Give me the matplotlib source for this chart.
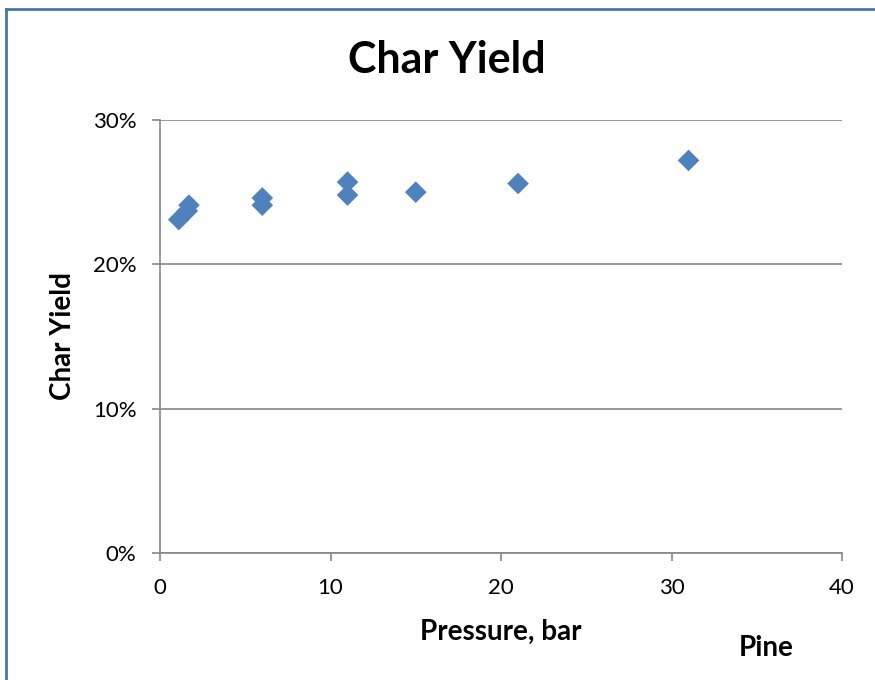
import matplotlib
matplotlib.use("Agg")
import matplotlib.pyplot as plt
from matplotlib.ticker import FuncFormatter

# pressure (bar) and char yield (fraction)
pressure = [1.1, 1.6, 1.7, 6.0, 6.0, 11.0, 11.0, 15.0, 21.0, 31.0]
char_yield = [0.231, 0.237, 0.241, 0.241, 0.246, 0.248, 0.257, 0.250, 0.256, 0.272]

x_ticks = [0, 10, 20, 30, 40]
y_ticks = [0.0, 0.1, 0.2, 0.3]

plt.rcParams['font.family'] = ['Lato', 'DejaVu Sans']

fig = plt.figure(figsize=(8.75, 6.8), dpi=100)
fig.patch.set_facecolor('white')

# chart frame (only top and left edges visible in the crop)
fig.add_artist(plt.Line2D([6/875, 6/875], [0, 1 - 9/680], color='#4a74a8', lw=2,
                          transform=fig.transFigure))
fig.add_artist(plt.Line2D([6/875, 1], [1 - 9/680, 1 - 9/680], color='#4a74a8', lw=2,
                          transform=fig.transFigure))

ax = fig.add_axes([160/875, 1 - 553/680, 682/875, 433/680])

ax.scatter(pressure, char_yield, marker='D', s=11**2, color='#4f81bd',
           edgecolor='none', zorder=3)

ax.set_xlim(0, 40)
ax.set_ylim(0, 0.3)
ax.set_xticks(x_ticks)
ax.set_yticks(y_ticks)
ax.yaxis.set_major_formatter(FuncFormatter(lambda v, p: f"{v*100:.0f}%"))

ax.grid(axis='y', color='#868686', lw=1.2)
ax.set_axisbelow(True)
for side in ['top', 'right']:
    ax.spines[side].set_visible(False)
for side in ['left', 'bottom']:
    ax.spines[side].set_color('#868686')
    ax.spines[side].set_linewidth(1.2)
ax.tick_params(axis='both', colors='#868686', labelcolor='black', labelsize=16,
               length=6, width=1.2, direction='out')
ax.tick_params(axis='x', pad=12)
ax.tick_params(axis='y', pad=11)

ax.set_xlabel('Pressure, bar', fontsize=20, fontweight='bold', labelpad=15)
ax.set_ylabel('Char Yield', fontsize=20, fontweight='bold', labelpad=12)

fig.text(447/875, 1 - 60/680, 'Char Yield', ha='center', va='center',
         fontsize=31, fontweight='bold')
fig.text(766/875, 1 - 648/680, 'Pine', ha='center', va='center',
         fontsize=20, fontweight='bold')

fig.savefig('out.png', dpi=100, facecolor='white')
